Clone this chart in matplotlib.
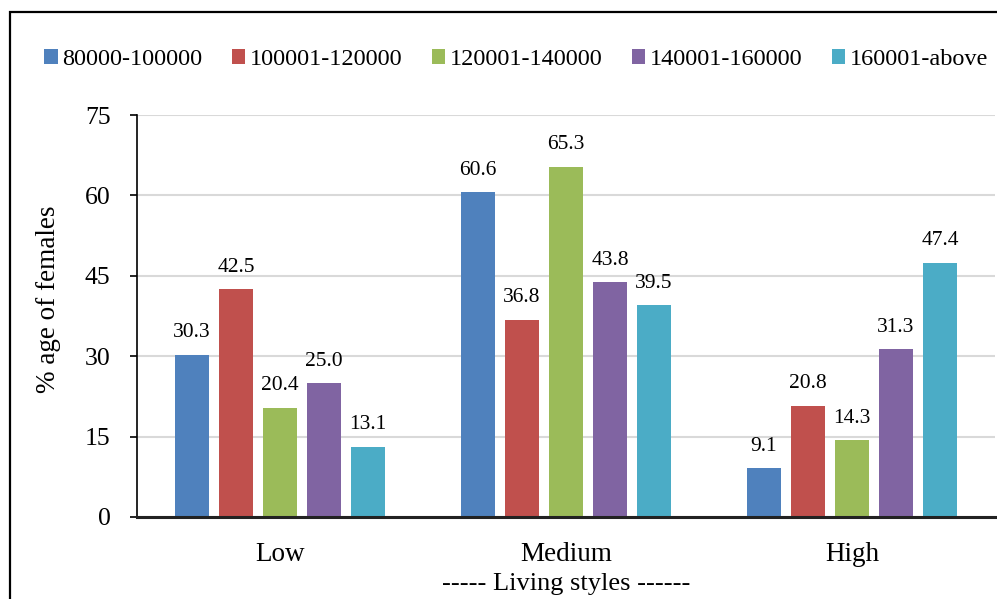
import matplotlib
matplotlib.use("Agg")
import matplotlib.pyplot as plt
from matplotlib.patches import Rectangle
import numpy as np

categories = ["Low", "Medium", "High"]
series_names = ["80000-100000", "100001-120000", "120001-140000", "140001-160000", "160001-above"]
values = [
    [30.3, 60.6, 9.1],
    [42.5, 36.8, 20.8],
    [20.4, 65.3, 14.3],
    [25.0, 43.8, 31.3],
    [13.1, 39.5, 47.4],
]
colors = ["#4f81bd", "#c0504d", "#9bbb59", "#8064a2", "#4bacc6"]
yticks = [0, 15, 30, 45, 60, 75]

plt.rcParams['font.family'] = ['Liberation Serif', 'DejaVu Serif']

fig = plt.figure(figsize=(9.97, 5.99), dpi=100)
ax = fig.add_axes([0.1374, 0.1369, 0.8606, 0.6711])

x = np.arange(len(categories))
step = 0.154
width = 0.119
for i, (name, vals, c) in enumerate(zip(series_names, values, colors)):
    pos = x + (i - 2) * step
    bars = ax.bar(pos, vals, width=width, color=c, label=name, zorder=3)
    for b, v in zip(bars, vals):
        ax.annotate(f"{v:.1f}", (b.get_x() + b.get_width() / 2, v),
                    xytext=(0, 9), textcoords="offset points",
                    ha="center", va="bottom", fontsize=15.5)

ax.set_xlim(-0.5, 2.5)
ax.set_ylim(0, 75)
ax.set_yticks(yticks)
ax.set_yticklabels([str(t) for t in yticks], fontsize=18.5)
ax.set_xticks(x)
ax.set_xticklabels(categories, fontsize=19.5)
ax.tick_params(axis='x', length=0, pad=18)
ax.tick_params(axis='y', direction='out', length=5, width=1.2, pad=14)
ax.grid(axis='y', color='#d9d9d9', linewidth=1.5, zorder=0)
ax.set_axisbelow(True)
for s in ['top', 'right']:
    ax.spines[s].set_visible(False)
ax.spines['left'].set_linewidth(1.2)
ax.spines['bottom'].set_linewidth(2.2)
ax.spines['bottom'].set_color('#222222')
ax.spines['bottom'].set_zorder(4)
ax.set_ylabel("% age of females", fontsize=19.5)
ax.yaxis.set_label_coords(-0.088, 0.542)
ax.set_xlabel("----- Living styles ------", fontsize=19, labelpad=4)

leg = fig.legend(loc='center', bbox_to_anchor=(0.518, 0.9), ncol=5, frameon=False,
                 fontsize=17.5, handlelength=0.55, handleheight=0.55,
                 handletextpad=0.2, columnspacing=1.2)

fig.add_artist(Rectangle((0.010, -0.1), 1.2, 0.98 + 0.1, transform=fig.transFigure,
                         fill=False, edgecolor='black', linewidth=1.6))

fig.savefig("out.png", dpi=100)
